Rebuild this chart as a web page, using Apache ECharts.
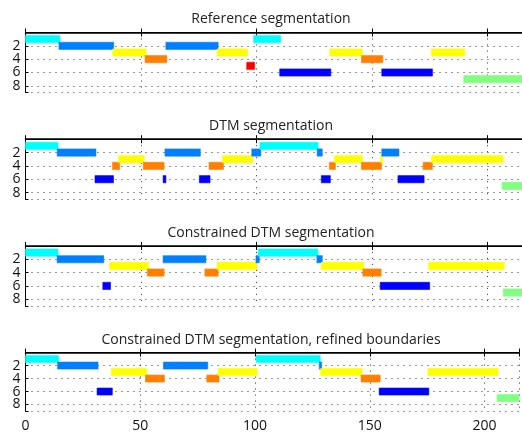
<!DOCTYPE html>
<html>
<head>
<meta charset="utf-8">
<script src="https://cdn.jsdelivr.net/npm/echarts@6/dist/echarts.min.js"></script>
<style>
  html, body { margin: 0; padding: 0; background: #fff; }
  #container { width: 522px; height: 433px; }
</style>
</head>
<body>
<div id="container"></div>
<script>
var dom = document.getElementById('container');
var myChart = echarts.init(dom, null, { renderer: 'canvas' });

// segment boundaries (x) and the level of each segment, per panel
const titles = [
  'Reference segmentation',
  'DTM segmentation',
  'Constrained DTM segmentation',
  'Constrained DTM segmentation, refined boundaries'
];
const refBounds = [0, 14.7, 38, 52, 61, 83.2, 96, 99, 110.3, 132, 145.7, 154.5, 176, 190, 215];
const refLevels = [1, 2, 3, 4, 2, 3, 5, 1, 6, 3, 4, 6, 3, 7];
const dtmBounds = [0, 13.9, 30.3, 37.9, 40.6, 51.2, 59.8, 60.6, 75.5, 79.7, 85.5, 98.2, 101.7, 126.5,
  128.3, 131.8, 134, 145.7, 154, 154.5, 161.5, 172.4, 176, 206.6, 215];
const dtmLevels = [1, 2, 6, 4, 3, 4, 6, 2, 6, 4, 3, 2, 1, 2, 6, 4, 3, 4, 3, 2, 6, 4, 3, 7];
const conBounds = [0, 13.9, 33.7, 36.6, 53, 59.8, 77.9, 83.2, 100, 101, 126.4, 128.3, 146.3, 153.8, 174.8, 207.1, 215];
const conLevels = [1, 2, 6, 3, 4, 2, 4, 3, 2, 1, 2, 3, 4, 6, 3, 7];
const refinedBounds = [0, 14.2, 31.4, 37.6, 52.5, 60.3, 79.2, 84.1, 100.7, 128.2, 128.8, 146.4, 154.3, 175.5, 205.7, 215];
const refinedLevels = [1, 2, 6, 3, 4, 2, 4, 3, 1, 2, 3, 4, 6, 3, 7];

const levelColors = {
  1: '#00ffff', 2: '#0080ff', 3: '#ffff00', 4: '#ff8000',
  5: '#ff0000', 6: '#0000ff', 7: '#80ff80', 8: '#80ff80'
};

const panels = [
  [refBounds, refLevels],
  [dtmBounds, dtmLevels],
  [conBounds, conLevels],
  [refinedBounds, refinedLevels]
];

const xMax = 215;
const gridTops = [32.5, 139.2, 245.9, 352.6];
const titleTops = [7, 114, 221, 328];
const gridH = 60;
const font = 'Open Sans';

function renderItem(params, api) {
  var s = api.coord([api.value(0), api.value(2)]);
  var e = api.coord([api.value(1), api.value(2)]);
  var h = api.size([0, 1])[1] * 1.08;
  var rect = echarts.graphic.clipRectByRect({
    x: s[0] - 0.5, y: s[1] - h / 2, width: e[0] - s[0] + 1, height: h
  }, {
    x: params.coordSys.x, y: params.coordSys.y,
    width: params.coordSys.width, height: params.coordSys.height
  });
  if (!rect) return;
  var c = levelColors[api.value(2)];
  return {
    type: 'rect',
    shape: rect,
    style: { fill: c, stroke: c, lineWidth: 0.6, opacity: 1 }
  };
}

var option = {
  backgroundColor: '#fff',
  animation: false,
  title: [],
  grid: [],
  xAxis: [],
  yAxis: [],
  series: []
};

var dotted = { color: '#333', width: 1, type: [1, 5] };

panels.forEach(function (p, i) {
  var bounds = p[0], levels = p[1];
  var segs = [];
  for (var k = 0; k < levels.length; k++) {
    segs.push([bounds[k], bounds[k + 1], levels[k]]);
  }
  option.title.push({
    text: titles[i],
    left: 266,
    top: titleTops[i],
    textAlign: 'center',
    textStyle: { fontFamily: font, fontSize: 14, fontWeight: 'normal', color: '#222' }
  });
  option.grid.push({
    left: 25.5, top: gridTops[i], width: 2.33 * xMax, height: gridH
  });
  // bottom x axis
  option.xAxis.push({
    type: 'value', gridIndex: i, min: 0, max: xMax, interval: 50, position: 'bottom',
    axisLine: { show: true, lineStyle: { color: '#000', width: 1.5 } },
    axisTick: { show: true, inside: true, length: 4, lineStyle: { color: '#000' } },
    axisLabel: {
      show: i === 3, margin: 8,
      fontFamily: font, fontSize: 14, color: '#111',
      formatter: function (v) { return v % 50 === 0 ? String(v) : ''; }
    },
    splitLine: { show: true, lineStyle: dotted }
  });
  // top x axis (frame + inward ticks)
  option.xAxis.push({
    type: 'value', gridIndex: i, min: 0, max: xMax, interval: 50, position: 'top',
    axisLine: { show: true, lineStyle: { color: '#000', width: 1 } },
    axisTick: { show: true, inside: true, length: 4, lineStyle: { color: '#000' } },
    axisLabel: { show: false },
    splitLine: { show: false }
  });
  option.yAxis.push({
    type: 'value', gridIndex: i, min: 0, max: 9, interval: 2, inverse: true,
    axisLine: { show: true, lineStyle: { color: '#000', width: 1 } },
    axisTick: { show: true, inside: true, length: 3, lineStyle: { color: '#000' } },
    axisLabel: {
      margin: 5, fontFamily: font, fontSize: 14, color: '#111',
      formatter: function (v) { return (v > 0 && v < 9 && v % 2 === 0) ? String(v) : ''; }
    },
    splitLine: { show: true, lineStyle: dotted }
  });
  option.series.push({
    type: 'custom',
    xAxisIndex: i * 2,
    yAxisIndex: i,
    renderItem: renderItem,
    encode: { x: [0, 1], y: 2 },
    data: segs
  });
});

myChart.setOption(option);
window.addEventListener('resize', myChart.resize);
</script>
</body>
</html>
